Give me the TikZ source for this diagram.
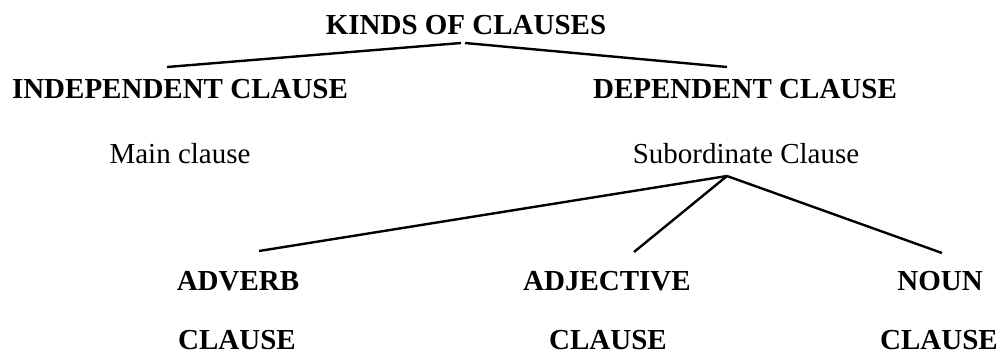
\documentclass[tikz,border=0pt]{standalone}
\usepackage{fontspec}
\setmainfont{Liberation Serif}
\usepackage{tikz}
\usetikzlibrary{positioning}

\begin{document}
\begin{tikzpicture}[x=1pt,y=-1pt,
    kind/.style={font=\fontsize{29}{34}\selectfont\bfseries,anchor=base,inner sep=0pt,text depth=0pt},
    plain/.style={font=\fontsize{29}{34}\selectfont,anchor=base,inner sep=0pt},
    branch/.style={line width=2.4pt}]
  \useasboundingbox (0,0) rectangle (1001,356);
  % top level
  \node[kind] (kinds) at (466,34){KINDS OF CLAUSES};
  \node[kind] (indep) at (180,98){INDEPENDENT CLAUSE};
  \node[kind] (dep) at (745,98){DEPENDENT CLAUSE};
  \node[plain] (main) at (180,163){Main clause};
  \node[plain] (sub) at (746,163){Subordinate Clause};
  % kinds of dependent clause
  \node[kind] (adverb) at (238,290){ADVERB};
  \node[kind] (adverbcl) at (237,349){CLAUSE};
  \node[kind] (adject) at (607,290){ADJECTIVE};
  \node[kind] (adjectcl) at (608,349){CLAUSE};
  \node[kind] (noun) at (940,290){NOUN};
  \node[kind] (nouncl) at (939,349){CLAUSE};
  % branch points
  \coordinate (kindsl) at (461,43);
  \coordinate (kindsr) at (465,43);
  \coordinate (independ) at (167,67);
  \coordinate (depend) at (727,67);
  \coordinate (subfork) at (727,176);
  \coordinate (adverbend) at (259,251);
  \coordinate (adjectend) at (634,252);
  \coordinate (nounend) at (942,253);
  \draw[branch] (kindsl) -- (independ);
  \draw[branch] (kindsr) -- (depend);
  \draw[branch] (subfork) -- (adverbend);
  \draw[branch] (subfork) -- (adjectend);
  \draw[branch] (subfork) -- (nounend);
\end{tikzpicture}
\end{document}
